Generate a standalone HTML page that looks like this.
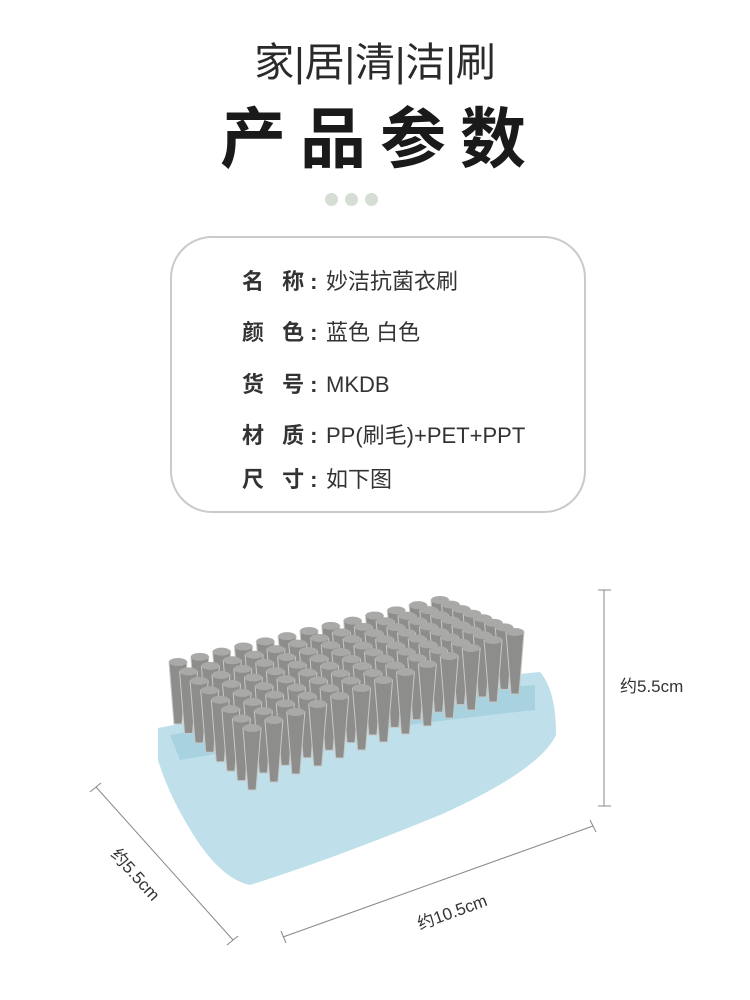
<!DOCTYPE html>
<html><head><meta charset="utf-8"><style>
body{margin:0;width:750px;height:1000px;background:#fff;position:relative;overflow:hidden;font-family:"Liberation Sans","Noto Sans CJK SC",sans-serif;color:#222}
.t1{position:absolute;top:30px;left:0;width:750px;text-align:center;font-size:40px;color:#2a2a2a}
.t2{position:absolute;top:86px;left:0;width:750px;text-align:center;font-size:66px;font-weight:bold;color:#1a1a1a;letter-spacing:14px;padding-left:10px;box-sizing:border-box}
.dot{position:absolute;top:193px;width:13px;height:13px;border-radius:50%;background:#d5ddd5}
.card{position:absolute;left:170px;top:236px;width:416px;height:277px;border:2px solid #c9c9ce;border-radius:42px;box-sizing:border-box}
.row{position:absolute;left:242px;font-size:22px;color:#333;white-space:nowrap}
.row b{font-weight:bold;display:inline-block;width:84px;letter-spacing:6px}
</style></head><body>
<div class="t1">家|居|清|洁|刷</div>
<div class="t2">产品参数</div>
<div class="dot" style="left:325px"></div><div class="dot" style="left:345px"></div><div class="dot" style="left:365px"></div>
<div class="card"></div>
<div class="row" style="top:264px"><b>名 称:</b>妙洁抗菌衣刷</div>
<div class="row" style="top:315px"><b>颜 色:</b>蓝色 白色</div>
<div class="row" style="top:367px"><b>货 号:</b>MKDB</div>
<div class="row" style="top:418px"><b>材 质:</b>PP(刷毛)+PET+PPT</div>
<div class="row" style="top:462px"><b>尺 寸:</b>如下图</div>
<svg id="s" width="750" height="1000" style="position:absolute;left:0;top:0">
<path d="M158,728 Q350,690 540,672 Q556,690 556,735 Q540,770 440,815 Q330,860 250,885 Q225,880 200,845 Q170,800 158,760 Z" fill="#bfe0ea"/>
<path d="M170,735 Q350,700 535,685 L535,710 Q350,730 180,760 Z" fill="#a8d2df"/>
<g id="tufts"></g>
<g stroke="#888" stroke-width="1" fill="none">
<line x1="96" y1="787" x2="233" y2="940"/><line x1="90" y1="792" x2="101" y2="783"/><line x1="227" y1="945" x2="238" y2="936"/>
<line x1="283" y1="937" x2="593" y2="826"/><line x1="281" y1="931" x2="286" y2="943"/><line x1="590" y1="820" x2="596" y2="832"/>
<line x1="604" y1="590" x2="604" y2="806"/><line x1="598" y1="590" x2="611" y2="590"/><line x1="598" y1="806" x2="611" y2="806"/>
</g>
<g font-family="Liberation Sans,Noto Sans CJK SC,sans-serif" font-size="17" fill="#333">
<text x="620" y="692">约5.5cm</text>
<text transform="translate(110,855) rotate(48)">约5.5cm</text>
<text transform="translate(420,930) rotate(-20)">约10.5cm</text>
</g>
</svg>
<script>
var g=document.getElementById('tufts'),h='';
var BL=[178,662],BR=[440,600],FR=[515,632],FL=[252,728];
var R=7,C=12;
for(var r=0;r<=R;r++){var v=r/R;for(var c=0;c<=C;c++){var u=c/C;
var x=(1-u)*((1-v)*BL[0]+v*FL[0])+u*((1-v)*BR[0]+v*FR[0]);
var y=(1-u)*((1-v)*BL[1]+v*FL[1])+u*((1-v)*BR[1]+v*FR[1]);
var H=62;
h+='<polygon points="'+(x-9)+','+y+' '+(x+9)+','+y+' '+(x+4)+','+(y+H)+' '+(x-4)+','+(y+H)+'" fill="#8d8d8b" stroke="#c8c8c6" stroke-width="1"/>';
h+='<ellipse cx="'+x+'" cy="'+y+'" rx="9" ry="4" fill="#a9a9a7"/>';}}
g.innerHTML=h;
</script>
</body></html>
